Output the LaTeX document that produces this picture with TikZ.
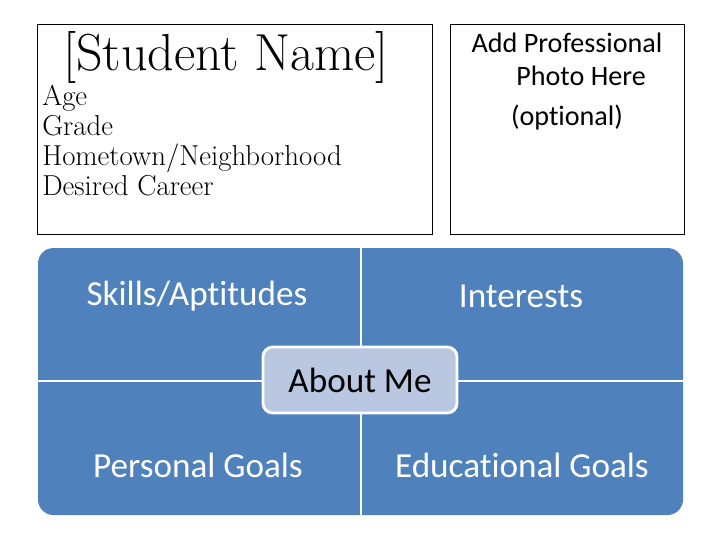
\documentclass[tikz,border=0pt]{standalone}
\usepackage{fontspec}
\newfontfamily\calibri[Ligatures=NoCommon]{Carlito}
\definecolor{quadblue}{RGB}{79,129,189}
\definecolor{aboutfill}{RGB}{185,199,224}
\tikzset{
  infobox/.style={draw=black,line width=0.6pt},
  quadtext/.style={text=white,font=\calibri\fontsize{25}{30}\selectfont},
  divider/.style={draw=white,line width=2pt},
}
\begin{document}
\begin{tikzpicture}[x=0.025cm,y=-0.025cm]
			\useasboundingbox (0,0) rectangle (720,540);
			% top boxes
			\draw[infobox] (37,24) rectangle (432,234);
			\draw[infobox] (450,24) rectangle (684,234);
			\node (name) at (226,57) {\fontsize{37}{42}\selectfont[Student Name]};
			\node[anchor=north west,align=left,inner sep=0pt,font=\fontsize{20.5}{21.3}\selectfont] (details) at (42,85) {Age\\Grade\\Hometown/Neighborhood\\Desired Career};
			\node[align=center,anchor=north,inner sep=0pt,font=\calibri\fontsize{20}{23.5}\selectfont] (photo) at (567,33) {Add Professional\\\hspace*{1.0em}Photo Here\\[5pt](optional)};
			% quadrants
			\fill[quadblue,rounded corners=11pt] (38,248) rectangle (683,515);
			\draw[divider] (361,248) -- (361,515);
			\draw[divider] (38,381) -- (683,381);
			\node[quadtext] (skills) at (197,296) {Skills/Aptitudes};
			\node[quadtext] (interests) at (521,296) {Interests};
			\node[quadtext] (personal) at (198,465) {Personal Goals};
			\node[quadtext] (educational) at (522,465) {Educational Goals};
			\node[draw=white,line width=2pt,fill=aboutfill,rounded corners=7pt,minimum width=4.85cm,minimum height=1.65cm,font=\calibri\fontsize{25}{30}\selectfont] (about) at (360,380) {About Me};
		\end{tikzpicture}
\end{document}
